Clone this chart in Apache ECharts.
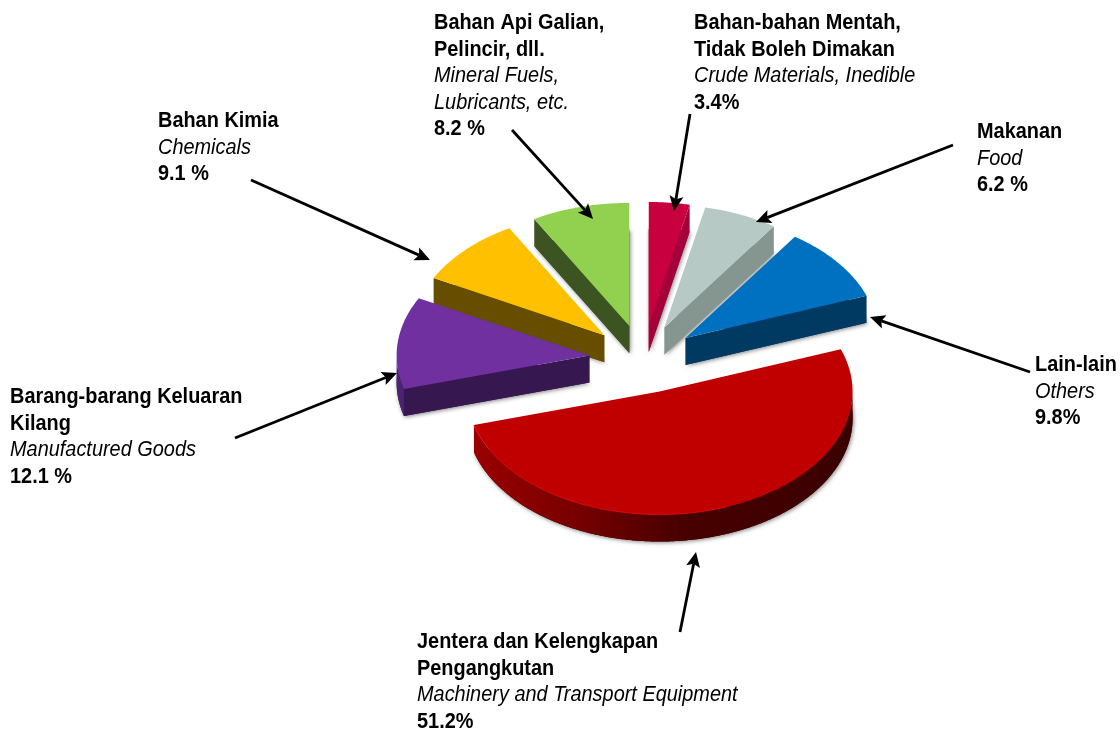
<!DOCTYPE html>
<html><head><meta charset="utf-8">
<style>html,body{margin:0;padding:0;background:#fff}#c{width:1120px;height:729px}</style>
<script src="https://cdn.jsdelivr.net/npm/echarts@6/dist/echarts.min.js"></script>
</head><body><div id="c"></div>
<script>
// ---- data, clockwise from twelve o'clock ----
const namesMs = [['Bahan-bahan Mentah,','Tidak Boleh Dimakan'],['Makanan'],['Lain-lain'],['Jentera dan Kelengkapan','Pengangkutan'],['Barang-barang Keluaran','Kilang'],['Bahan Kimia'],['Bahan Api Galian,','Pelincir, dll.']];
const namesEn = [['Crude Materials, Inedible'],['Food'],['Others'],['Machinery and Transport Equipment'],['Manufactured Goods'],['Chemicals'],['Mineral Fuels,','Lubricants, etc.']];
const shares = [3.4, 6.2, 9.8, 51.2, 12.1, 9.1, 8.2];
const shareLabels = ['3.4%','6.2 %','9.8%','51.2%','12.1 %','9.1 %','8.2 %'];

// ---- styles and layout ----
const topColors  = ['#c8003f','#b7c9c4','#0070c0','#c00000','#7030a0','#ffc000','#92d050'];
const wallColors = ['#a6003a','#85958f','#003a63','#5a0000','#36174f','#664d00','#3c5322'];
const labelPos = [[694,23],[977,132],[1035,365],[417,642],[10,397],[158,121],[434,23]];
const leaders = [[[690,114],[674,211]],[[953,145],[756,222]],[[1030,372],[870,317]],[[680,632],[696,552]],[[235,438],[397,373]],[[251,180],[430,260]],[[512,130],[593,219]]];
const CX = 643, CY = 359, RX = 193, RY = 123, EXPLODE = 0.278, DEPTH = 27, LINE_H = 26.5;
const FONT = '"Liberation Sans",Arial,sans-serif';
const FONT_SIZE = 22.5, TEXT_SQUEEZE = 0.885;

// ---- pie geometry from values ----
const total = shares.reduce((a,b)=>a+b,0);
const rad = d => d*Math.PI/180;
let cursor = -90;
const slices = shares.map(v=>{
  const s = cursor, e = cursor + v/total*360; cursor = e;
  const m = rad((s+e)/2);
  return {s,e,tip:[CX+EXPLODE*RX*Math.cos(m), CY+EXPLODE*RY*Math.sin(m)]};
});
const rank = slices.map((_,i)=>i).sort((a,b)=>slices[a].tip[1]-slices[b].tip[1]);
const rim = (t,a,d=0)=>[t[0]+RX*Math.cos(rad(a)), t[1]+RY*Math.sin(rad(a))+d];
const arc = (t,a,b,d=0)=>{const p=[];const n=Math.max(2,Math.ceil(Math.abs(b-a)*2));
  for(let i=0;i<=n;i++)p.push(rim(t,a+(b-a)*i/n,d));return p;};
const shadow = {shadowColor:'rgba(0,0,0,0.5)',shadowBlur:4,shadowOffsetX:1,shadowOffsetY:1};

function renderItem(params){
  const i = params.dataIndex, sl = slices[i], t = sl.tip, {s,e} = sl;
  const z = rank.indexOf(i)*10+1, kids = [];
  const poly = (pts,style,dz)=>kids.push({type:'polygon',z2:z+dz,silent:true,shape:{points:pts},style});
  const low = [t[0],t[1]+DEPTH];
  poly([low].concat(arc(t,s,e,DEPTH)),{fill:wallColors[i],...shadow},0);
  const wall = {fill:wallColors[i]};
  // radial walls that face the viewer
  if(Math.cos(rad(s))<-1e-6) poly([t,rim(t,s),rim(t,s,DEPTH),low],wall,1);
  if(Math.cos(rad(e))>1e-6)  poly([t,rim(t,e),rim(t,e,DEPTH),low],wall,1);
  // outer curved wall
  const a0=Math.max(s,0), a1=Math.min(e,180);
  if(a1>a0){
    const big = a1-a0>90;
    const fill = big ? new echarts.graphic.LinearGradient(0,0,1,0,[
      {offset:0,color:'#9a0000'},{offset:0.25,color:'#7a0000'},{offset:0.55,color:'#480000'},{offset:1,color:'#3a0000'}]) : '#4c2272';
    poly(arc(t,a0,a1).concat(arc(t,a1,a0,DEPTH)),{fill},2);
    if(big) kids.push({type:'polyline',z2:z+4,silent:true,shape:{points:arc(t,70,a1)},style:{stroke:'#e80f0f',lineWidth:1,fill:null,opacity:0.8}});
  }
  // top face
  poly([t].concat(arc(t,s,e)),{fill:topColors[i]},3);
  return {type:'group',children:kids};
}

// ---- labels and arrows ----
const graphics = [];
function arrow(tail,tip){
  const dx=tip[0]-tail[0],dy=tip[1]-tail[1],L=Math.hypot(dx,dy),ux=dx/L,uy=dy/L,nx=-uy,ny=ux;
  const b=[tip[0]-ux*15,tip[1]-uy*15], w=7, n=[tip[0]-ux*12,tip[1]-uy*12];
  graphics.push({type:'line',z:100,silent:true,shape:{x1:tail[0],y1:tail[1],x2:n[0],y2:n[1]},style:{stroke:'#000',lineWidth:2.8}});
  graphics.push({type:'polygon',z:100,silent:true,shape:{points:[tip,[b[0]+nx*w,b[1]+ny*w],n,[b[0]-nx*w,b[1]-ny*w]]},style:{fill:'#000'}});
}
leaders.forEach(l=>arrow(l[0],l[1]));
shares.forEach((_,i)=>{
  const lines=[...namesMs[i].map(t=>[t,'bold']),...namesEn[i].map(t=>[t,'italic']),[shareLabels[i],'bold']];
  lines.forEach((ln,k)=>graphics.push({type:'text',z:100,silent:true,x:labelPos[i][0],y:labelPos[i][1]+k*LINE_H,scaleX:TEXT_SQUEEZE,
    style:{text:ln[0],fill:'#000',font:ln[1]+' '+FONT_SIZE+'px '+FONT,textVerticalAlign:'middle',textAlign:'left'}}));
});

const chart = echarts.init(document.getElementById('c'),null,{renderer:'canvas'});
chart.setOption({
  animation:false,
  backgroundColor:'#ffffff',
  graphic:{elements:graphics},
  series:[{type:'custom',coordinateSystem:'none',silent:true,renderItem,data:shares.map(v=>[v])}]
});
</script></body></html>
